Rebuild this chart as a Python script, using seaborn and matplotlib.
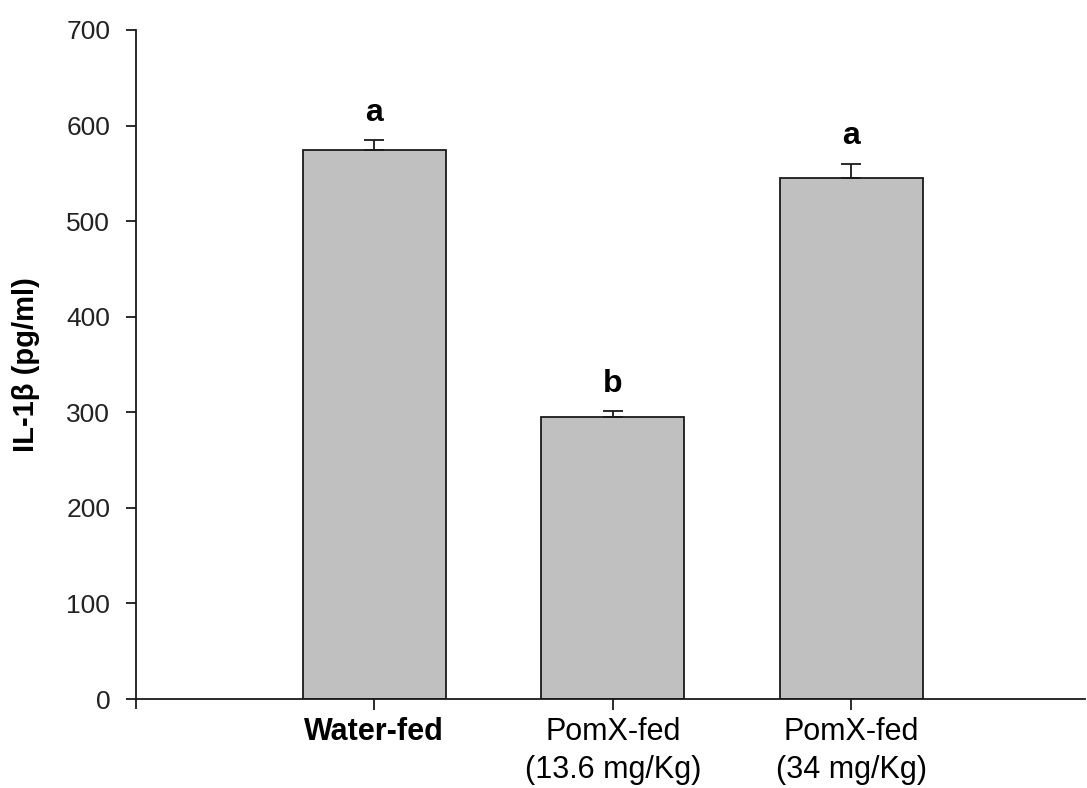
import matplotlib
matplotlib.use("Agg")
import matplotlib.pyplot as plt
import seaborn as sns
import numpy as np
import pandas as pd

# Serum IL-1beta by feeding group
groups = ["Water-fed", "PomX-fed\n(13.6 mg/Kg)", "PomX-fed\n(34 mg/Kg)"]
il1b = [574, 295, 545]
sem = [10.5, 6, 15]
letters = ["a", "b", "a"]
yticks = [0, 100, 200, 300, 400, 500, 600, 700]

df = pd.DataFrame({"group": groups, "il1b": il1b})

sns.set_theme(style="white")
plt.rcParams["font.family"] = ["Liberation Sans", "DejaVu Sans"]

fig = plt.figure(figsize=(10.87, 7.88), dpi=100)
ax = fig.add_axes([0.1251, 0.1129, 0.8729, 0.8491])

line_col = "#1a1a1a"
sns.barplot(data=df, x="group", y="il1b", order=groups, color="#c0c0c0",
            saturation=1, width=0.6, errorbar=None, edgecolor=line_col,
            linewidth=1.3, ax=ax)

xpos = np.arange(len(groups))
ax.errorbar(xpos, il1b, yerr=[np.zeros(len(sem)), sem], fmt="none",
            ecolor=line_col, elinewidth=1.3, capsize=7.5, capthick=1.3)

for x, v, e, t in zip(xpos, il1b, sem, letters):
    ax.annotate(t, (x, v + e), xytext=(0, 14), textcoords="offset points",
                ha="center", va="baseline", fontsize=23, fontweight="bold",
                color="black")

ax.set_xlim(-1.0, 2.98)
ax.set_ylim(0, 700)
ax.set_yticks(yticks)
ax.set_yticklabels([str(t) for t in yticks], fontsize=19, color="#222222")

ax.set_xlabel("")
ax.set_xticks(xpos)
ax.set_xticklabels(groups, fontsize=22, color="black", linespacing=1.35)
for lab in ax.get_xticklabels():
    lab.set_fontweight("bold" if lab.get_text() == "Water-fed" else "normal")

ax.set_ylabel("IL-1β (pg/ml)", fontsize=21, fontweight="bold", color="black")
ax.yaxis.set_label_coords(-0.101, 0.5)

for side in ["top", "right"]:
    ax.spines[side].set_visible(False)
for side in ["left", "bottom"]:
    ax.spines[side].set_color(line_col)
    ax.spines[side].set_linewidth(1.3)

ax.tick_params(axis="y", direction="out", length=7.5, width=1.3,
               color=line_col, pad=11, left=True)
ax.tick_params(axis="x", direction="out", length=8, width=1.3,
               color=line_col, pad=5, bottom=True)

# short downward extension of the y axis below zero
ax.plot([0, 0], [-10.5, 0], transform=ax.get_yaxis_transform(),
        color=line_col, lw=1.3, clip_on=False, solid_capstyle="butt")

fig.savefig("out.png", dpi=100, facecolor="white")
